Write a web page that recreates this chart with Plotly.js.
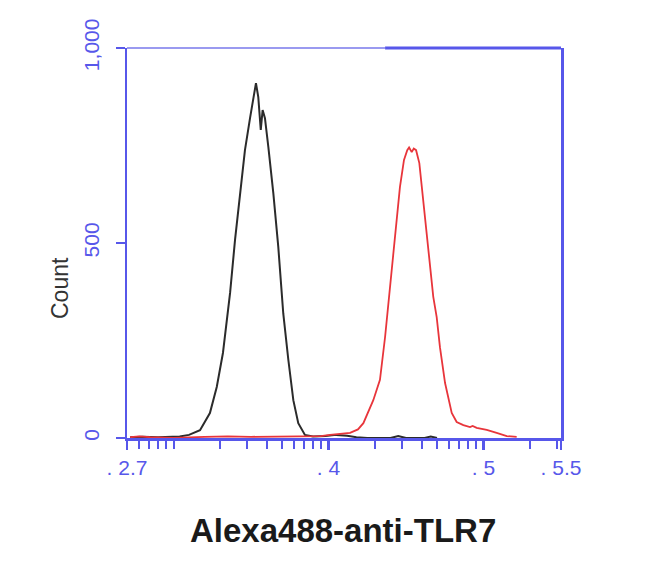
<!DOCTYPE html>
<html>
<head>
<meta charset="utf-8">
<script src="https://cdn.plot.ly/plotly-3.0.1.min.js"></script>
<style>html,body{margin:0;padding:0;background:#fff;}#chart{width:650px;height:569px;}</style>
</head>
<body>
<div id="chart"></div>
<script>
// x values are log10 of fluorescence intensity
const blackX = [2.72, 2.80, 2.90, 3.00, 3.04, 3.10, 3.171, 3.235, 3.279, 3.319, 3.365, 3.397, 3.429, 3.461, 3.494, 3.515, 3.532, 3.547, 3.555, 3.563, 3.575, 3.590, 3.612, 3.644, 3.676, 3.708, 3.741, 3.773, 3.805, 3.848, 3.90, 3.98, 4.05, 4.12, 4.18, 4.25, 4.40, 4.45, 4.50, 4.62, 4.66, 4.70];
const blackY = [2, 3, 2, 3, 4, 8, 20, 64, 131, 218, 372, 508, 628, 738, 821, 867, 910, 874, 830, 790, 841, 820, 746, 628, 490, 320, 200, 97, 38, 8, 4, 5, 8, 6, 2, 0, 0, 5, 0, 0, 4, 0];
const redX = [2.72, 2.78, 2.85, 3.0, 3.2, 3.35, 3.5, 3.65, 3.80, 3.95, 4.010, 4.08, 4.139, 4.19, 4.225, 4.289, 4.332, 4.365, 4.397, 4.429, 4.461, 4.487, 4.508, 4.52, 4.537, 4.55, 4.565, 4.586, 4.612, 4.644, 4.676, 4.698, 4.719, 4.752, 4.795, 4.827, 4.85, 4.870, 4.913, 4.93, 4.956, 5.021, 5.085, 5.150, 5.214];
const redY = [2, 4, 2, 0, 3, 4, 3, 4, 4, 5, 8, 10, 13, 22, 38, 97, 149, 259, 387, 533, 644, 713, 738, 745, 733, 742, 738, 705, 603, 474, 362, 310, 233, 141, 64, 41, 36, 33, 28, 31, 26, 21, 13, 5, 3];

const xTickVals = [2.7, 4, 5, 5.5];
const xTickText = ['. 2.7', '. 4', '. 5', '. 5.5'];
const yTickVals = [0, 500, 1000];
const yTickText = ['0', '500', '1,000'];
const minorRaw = [600, 700, 800, 900, 1000, 2000, 3000, 4000, 5000, 6000, 7000, 8000, 9000, 20000, 30000, 40000, 50000, 60000, 70000, 80000, 90000, 200000, 300000];
const xTitle = 'Alexa488-anti-TLR7';
const yTitle = 'Count';

const blue = '#5757ea';
const minorVals = minorRaw.map(v => Math.log10(v));

const traces = [
  {x: blackX, y: blackY, type: 'scatter', mode: 'lines', line: {color: '#2b2b2b', width: 2}, hoverinfo: 'skip'},
  {x: redX, y: redY, type: 'scatter', mode: 'lines', line: {color: '#e8353b', width: 1.8}, hoverinfo: 'skip'}
];

const layout = {
  width: 650, height: 569,
  margin: {l: 127, r: 89, t: 48, b: 131},
  paper_bgcolor: '#fff', plot_bgcolor: '#fff',
  showlegend: false,
  font: {family: 'Liberation Sans, Arial, sans-serif', color: blue},
  xaxis: {
    range: [2.7, 5.5], showgrid: false, zeroline: false,
    showline: true, linecolor: blue, linewidth: 2.5,
    tickmode: 'array', tickvals: xTickVals, ticktext: xTickText,
    ticks: 'outside', ticklen: 9, tickwidth: 2.5, tickcolor: blue,
    tickfont: {size: 21, color: blue},
    minor: {tickvals: minorVals, ticks: 'outside', ticklen: 8, tickwidth: 2, tickcolor: blue, showgrid: false}
  },
  yaxis: {
    range: [0, 1000], showgrid: false, zeroline: false,
    showline: true, linecolor: blue, linewidth: 2.5, mirror: true,
    tickmode: 'array', tickvals: yTickVals, ticktext: yTickText,
    ticks: 'outside', ticklen: 9, tickwidth: 2.5, tickcolor: blue,
    tickangle: -90, tickfont: {size: 21, color: blue}, ticklabelstandoff: 8
  },
  shapes: [
    {type: 'line', xref: 'x', yref: 'paper', x0: 2.7, x1: 4.365, y0: 1, y1: 1, line: {color: '#9a9af0', width: 1.8}},
    {type: 'line', xref: 'x', yref: 'paper', x0: 4.365, x1: 5.5, y0: 1, y1: 1, line: {color: blue, width: 2.8}}
  ],
  annotations: [
    {text: yTitle, xref: 'paper', yref: 'paper', x: -0.154, y: 0.385, xanchor: 'center', yanchor: 'middle',
     showarrow: false, textangle: -90,
     font: {size: 23, color: '#333', family: 'Liberation Sans, Arial, sans-serif'}},
    {text: '<b>' + xTitle + '</b>', xref: 'paper', yref: 'paper', x: 0.497, y: -0.238, xanchor: 'center', yanchor: 'middle',
     showarrow: false,
     font: {size: 33, color: '#1a1a1a', family: 'Liberation Sans, Arial, sans-serif'}}
  ]
};

Plotly.newPlot('chart', traces, layout, {staticPlot: true, displayModeBar: false});
</script>
</body>
</html>
